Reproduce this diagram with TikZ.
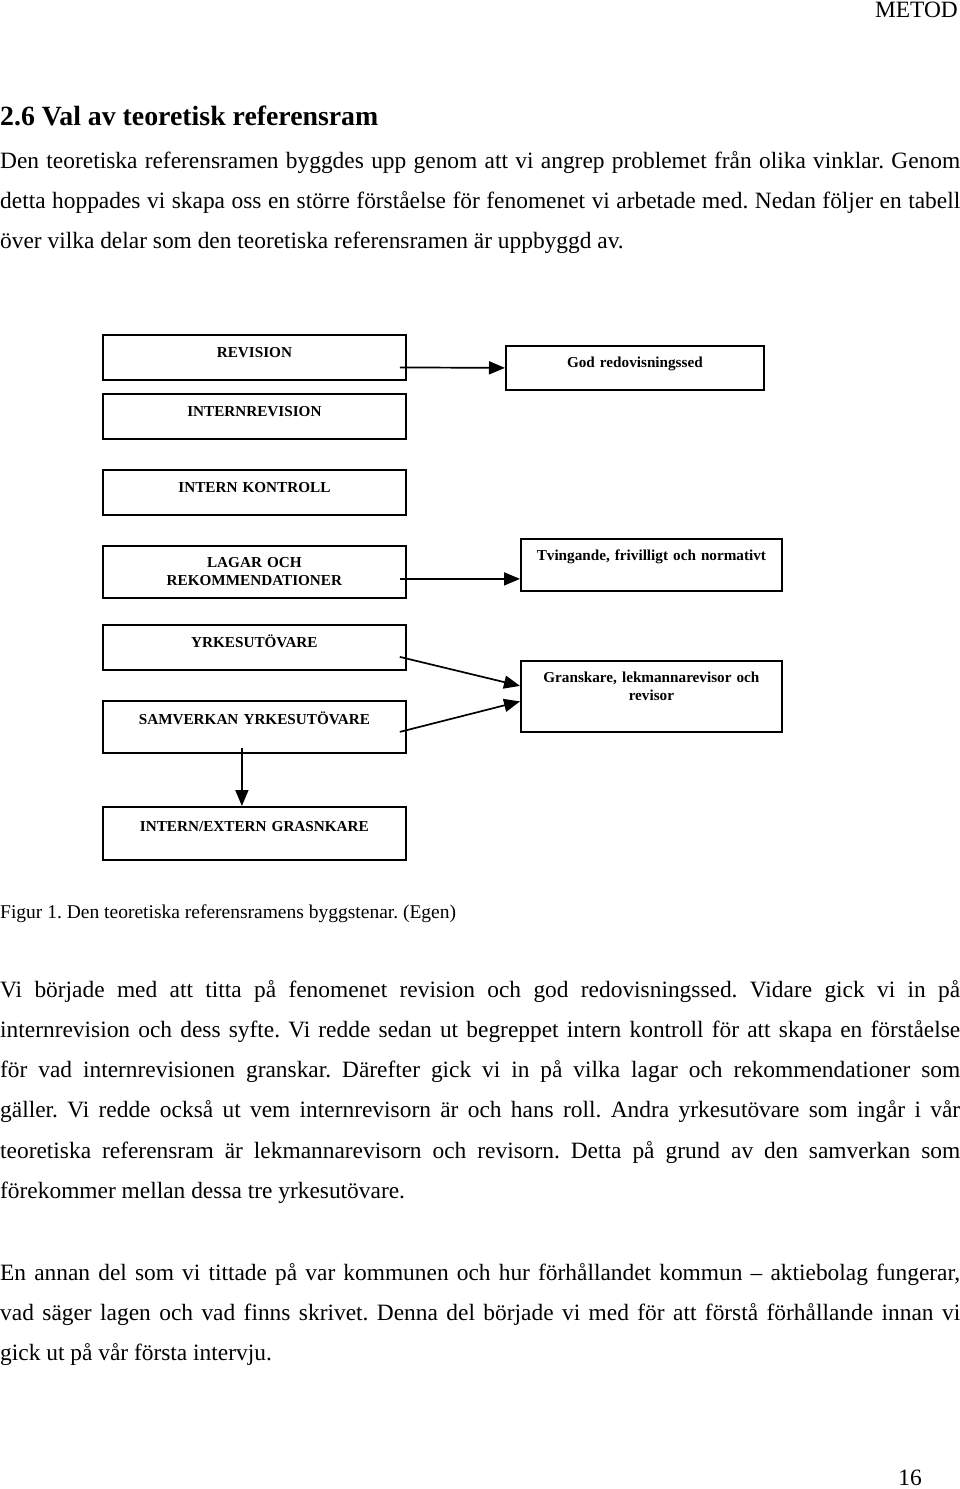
\documentclass[tikz,border=0pt]{standalone}
\usepackage{fontspec}
\setmainfont{Liberation Serif}
\usetikzlibrary{positioning,
        arrows.meta,
        calc}
\frenchspacing

\begin{document}
\begin{tikzpicture}[x=1pt, y=-1pt,
        box/.style={draw, line width=1.8pt, anchor=north west, inner sep=0pt, align=center,
                font=\fontsize{15.2}{17.5}\selectfont\bfseries},
        body/.style={anchor=base west, inner sep=0pt, text width=960pt, align=justify,
                font=\fontsize{23.4}{40.3}\selectfont},
        pil/.style={line width=1.7pt, -{Triangle[length=16pt,width=13pt]}}]
        \useasboundingbox (0,0) rectangle (960,1489);

        % page text
        \node [anchor=base east, inner sep=0pt, font=\fontsize{23.4}{28}\selectfont] (sidhuvud) at (958,17) {METOD};
        \node [anchor=base west, inner sep=0pt, font=\fontsize{27.8}{32}\selectfont\bfseries] (rubrik) at (0,125) {2.6 Val av teoretisk referensram};
        \node [body] (stycke1) at (0,168) {Den teoretiska referensramen byggdes upp genom att vi angrep problemet från olika vinklar. Genom\linebreak
                detta hoppades vi skapa oss en större förståelse för fenomenet vi arbetade med. Nedan följer en tabell\linebreak
                över vilka delar som den teoretiska referensramen är uppbyggd av.};

        % figure
        \node [box, text width=303pt, text height=23pt, text depth=22pt] (revision) at (102,334) {REVISION};
        \node [box, text width=258pt, text height=22pt, text depth=22pt] (god) at (505,345) {God redovisningssed};
        \node [box, text width=303pt, text height=23pt, text depth=22pt] (internrev) at (102,393) {INTERNREVISION};
        \node [box, text width=303pt, text height=23pt, text depth=22pt] (kontroll) at (102,469) {INTERN KONTROLL};
        \node [box, text width=303pt, text height=22pt, text depth=30pt] (lagar) at (102,545) {LAGAR OCH\\REKOMMENDATIONER};
        \node [box, text width=261pt, text height=22pt, text depth=30pt] (tvingande) at (520,538) {Tvingande, frivilligt och normativt};
        \node [box, text width=303pt, text height=23pt, text depth=22pt] (yrke) at (102,624) {YRKESUTÖVARE};
        \node [box, text width=303pt, text height=24pt, text depth=28pt] (samverkan) at (102,700) {SAMVERKAN YRKESUTÖVARE};
        \node [box, text width=261pt, text height=22pt, text depth=49pt] (granskare) at (520,660) {Granskare, lekmannarevisor och\\revisor};
        \node [box, text width=303pt, text height=25pt, text depth=28pt] (grans) at (102,806) {INTERN/EXTERN GRASNKARE};

        \draw [pil] ($(revision.east)+(-7,10)$) -- (god.west);
        \draw [pil] ($(lagar.east)+(-7,7)$) -- ($(tvingande.west)+(0,14)$);
        \draw [pil] ($(yrke.east)+(-7,9.5)$) -- ($(granskare.west)+(0,-10.5)$);
        \draw [pil] ($(samverkan.east)+(-7,5)$) -- ($(granskare.west)+(0,5)$);
        \draw [pil] ($(samverkan.south)+(-12.5,-6)$) -- ($(grans.north)+(-12.5,0)$);

        \node [anchor=base west, inner sep=0pt, font=\fontsize{19.5}{24}\selectfont] (figurtext) at (0,918) {Figur 1. Den teoretiska referensramens byggstenar. (Egen)};

        \node [body] (stycke2) at (0,997) {Vi började med att titta på fenomenet revision och god redovisningssed. Vidare gick vi in på\linebreak
                internrevision och dess syfte. Vi redde sedan ut begreppet intern kontroll för att skapa en förståelse\linebreak
                för vad internrevisionen granskar. Därefter gick vi in på vilka lagar och rekommendationer som\linebreak
                gäller. Vi redde också ut vem internrevisorn är och hans roll. Andra yrkesutövare som ingår i vår\linebreak
                teoretiska referensram är lekmannarevisorn och revisorn. Detta på grund av den samverkan som\linebreak
                förekommer mellan dessa tre yrkesutövare.};
        \node [body] (stycke3) at (0,1280) {En annan del som vi tittade på var kommunen och hur förhållandet kommun – aktiebolag fungerar,\linebreak
                vad säger lagen och vad finns skrivet. Denna del började vi med för att förstå förhållande innan vi\linebreak
                gick ut på vår första intervju.};

        \node [anchor=base east, inner sep=0pt, font=\fontsize{23.4}{28}\selectfont] (sidnr) at (922,1485) {16};
\end{tikzpicture}
\end{document}
